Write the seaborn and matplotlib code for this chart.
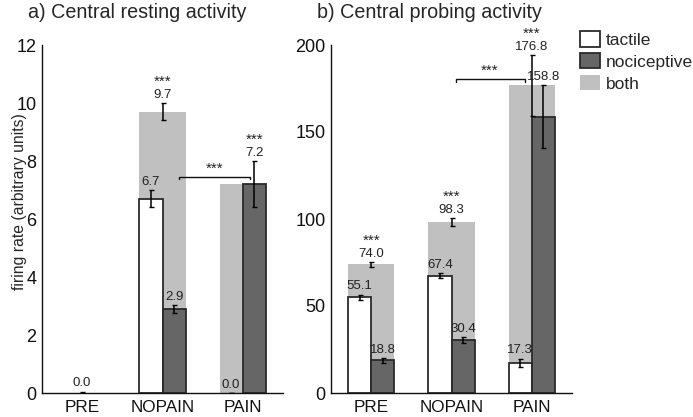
import numpy as np
import pandas as pd
import matplotlib
matplotlib.use("Agg")
import matplotlib.pyplot as plt
import seaborn as sns
from matplotlib.patches import Patch

# ---------------- data ----------------
conditions = ["PRE", "NOPAIN", "PAIN"]
series = ["tactile", "nociceptive"]

rest_tactile = [0.0, 6.7, 0.0]
rest_tactile_err = [0.0, 0.3, 0.0]
rest_noci = [0.0, 2.9, 7.2]
rest_noci_err = [0.0, 0.13, 0.8]
rest_both = [0.0, 9.7, 7.2]
rest_both_err = [0.05, 0.3, 0.8]
rest_both_sig = [False, True, True]

probe_tactile = [55.1, 67.4, 17.3]
probe_tactile_err = [1.5, 1.5, 2.5]
probe_noci = [18.8, 30.4, 158.8]
probe_noci_err = [1.5, 1.5, 18.0]
probe_both = [74.0, 98.3, 176.8]
probe_both_err = [1.5, 2.5, 17.5]
probe_both_sig = [True, True, True]

panel_titles = ["a) Central resting activity", "b) Central probing activity"]
ylabel = "firing rate (arbitrary units)"

# ---------------- style ----------------
sns.set_style("white")
plt.rcParams["font.family"] = ["Liberation Sans", "DejaVu Sans"]

C_BOTH = "#c0c0c0"
C_NOCI = "#666666"
C_TACT = "#ffffff"
C_EDGE = "#2a2a2a"
WIDTH = 0.58

fig = plt.figure(figsize=(6.93, 4.17), dpi=100)
axA = fig.add_axes([42 / 693, 24 / 417, 241 / 693, 348 / 417])
axB = fig.add_axes([331 / 693, 24 / 417, 241 / 693, 348 / 417])


def draw_panel(ax, tact, tact_e, noci, noci_e, both, both_e, sig, ymax, yticks):
    df_both = pd.DataFrame({"cond": conditions, "val": both})
    sns.barplot(data=df_both, x="cond", y="val", color=C_BOTH, width=WIDTH,
                errorbar=None, linewidth=0, saturation=1, ax=ax)
    df_pair = pd.DataFrame({
        "cond": conditions * 2,
        "type": [series[0]] * 3 + [series[1]] * 3,
        "val": list(tact) + list(noci),
    })
    sns.barplot(data=df_pair, x="cond", y="val", hue="type", hue_order=series,
                palette={series[0]: C_TACT, series[1]: C_NOCI}, width=WIDTH,
                errorbar=None, edgecolor=C_EDGE, linewidth=1.3, saturation=1,
                legend=False, ax=ax)
    for p in ax.patches:
        if p.get_height() == 0:
            p.set_linewidth(0)

    x = np.arange(len(conditions))
    off = WIDTH / 4
    ekw = dict(fmt="none", ecolor="black", elinewidth=1.1, capsize=1.8, capthick=1.0, zorder=5)

    def lab(xp, top, txt, stars=False):
        ax.annotate(txt, (xp, top), xytext=(0, 1.5), textcoords="offset points",
                    ha="center", va="bottom", fontsize=9.5, color="#222222", zorder=6)
        if stars:
            ax.annotate("***", (xp, top), xytext=(0, 10), textcoords="offset points",
                        ha="center", va="bottom", fontsize=11, color="#222222", zorder=6)

    for i in range(len(conditions)):
        bx = x[i]
        if both[i] == noci[i] and tact[i] == 0 and both[i] > 0:
            bx = x[i] + off
        ax.errorbar([bx], [both[i]], yerr=[both_e[i]], **ekw)
        lab(bx, both[i] + both_e[i], f"{both[i]:.1f}", sig[i])
        if both[i] == 0:
            continue
        ax.errorbar([x[i] - off], [tact[i]], yerr=[tact_e[i]], **ekw)
        lab(x[i] - off, tact[i] + tact_e[i], f"{tact[i]:.1f}")
        if noci[i] != both[i]:
            ax.errorbar([x[i] + off], [noci[i]], yerr=[noci_e[i]], **ekw)
            lab(x[i] + off, noci[i] + noci_e[i], f"{noci[i]:.1f}")

    ax.set_xlim(-0.5, 2.5)
    ax.set_ylim(0, ymax)
    ax.set_yticks(yticks)
    ax.set_xlabel("")
    ax.set_ylabel("")
    sns.despine(ax=ax)
    for s in ["left", "bottom"]:
        ax.spines[s].set_color("#111111")
        ax.spines[s].set_linewidth(1.0)
    ax.tick_params(axis="y", direction="in", length=2, labelsize=13, pad=4, colors="#111111")
    ax.tick_params(axis="x", length=0, labelsize=12.3, pad=5, colors="#111111")


draw_panel(axA, rest_tactile, rest_tactile_err, rest_noci, rest_noci_err,
           rest_both, rest_both_err, rest_both_sig, 12, [0, 2, 4, 6, 8, 10, 12])
draw_panel(axB, probe_tactile, probe_tactile_err, probe_noci, probe_noci_err,
           probe_both, probe_both_err, probe_both_sig, 200, [0, 50, 100, 150, 200])


def bracket(ax, x0, x1, y, drop):
    ax.plot([x0, x0, x1, x1], [y - drop, y, y, y - drop], color="#111111", lw=1.0,
            clip_on=False, zorder=6)
    ax.annotate("***", ((x0 + x1) / 2, y), xytext=(0, 1), textcoords="offset points",
                ha="center", va="bottom", fontsize=11, color="#222222")


bracket(axA, 1.21, 2.09, 7.45, 0.08)
bracket(axB, 1.05, 1.91, 180.5, 2.0)

axA.set_ylabel(ylabel, fontsize=11.3)
axA.yaxis.set_label_coords(-0.062, 0.549)

fig.text(28 / 693, 1 - 18 / 417, panel_titles[0], fontsize=14.2, ha="left", va="baseline")
fig.text(317 / 693, 1 - 18 / 417, panel_titles[1], fontsize=14.2, ha="left", va="baseline")

handles = [Patch(facecolor=C_TACT, edgecolor=C_EDGE, linewidth=1.3, label=series[0]),
           Patch(facecolor=C_NOCI, edgecolor=C_EDGE, linewidth=1.3, label=series[1]),
           Patch(facecolor=C_BOTH, edgecolor="none", label="both")]
fig.legend(handles=handles, loc="upper left", bbox_to_anchor=(580 / 693, 1 - 31 / 417),
           frameon=False, fontsize=12.5, handlelength=1.15, handleheight=1.0,
           handletextpad=0.35, labelspacing=0.3, borderaxespad=0, borderpad=0)

fig.savefig("out.png", dpi=100)
